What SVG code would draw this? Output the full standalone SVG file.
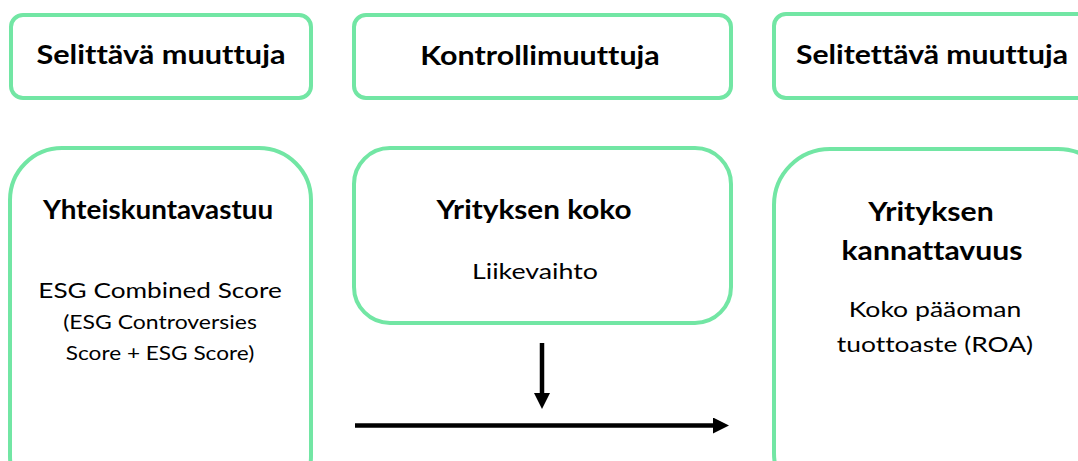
<svg xmlns="http://www.w3.org/2000/svg" width="1078" height="461" viewBox="0 0 1078 461">
<style>
.box{fill:#fff;stroke:#72E6A4;stroke-width:4}
text{font-variant-ligatures:none}
.h{font-family:Lato,"Open Sans",sans-serif;font-weight:bold;font-size:27px;fill:#000;text-anchor:middle}
.t{font-family:Lato,"Open Sans",sans-serif;font-size:21.5px;fill:#000;text-anchor:middle}
.s{font-family:Lato,"Open Sans",sans-serif;font-size:19px;fill:#000;text-anchor:middle}
.c{stroke:#000;stroke-width:4.5;fill:none}
</style>
<defs>
<marker id="ah" markerWidth="16" markerHeight="16" refX="0" refY="8" orient="auto" markerUnits="userSpaceOnUse" viewBox="0 0 16 16">
<path d="M0,0 L16,8 L0,16 z" fill="#000"/>
</marker>
</defs>
<rect width="1078" height="461" fill="#fff"/>
<g id="h1"><rect class="box" x="11" y="15" width="300" height="83" rx="12"/><text class="h" transform="translate(161,64) scale(1.136,1)">Selittävä muuttuja</text></g>
<g id="h2"><rect class="box" x="354" y="15" width="377" height="83" rx="12"/><text class="h" transform="translate(540,65) scale(1.127,1)">Kontrollimuuttuja</text></g>
<g id="h3"><rect class="box" x="774" y="14" width="330" height="84" rx="12"/><text class="h" transform="translate(932,64) scale(1.117,1)">Selitettävä muuttuja</text></g>
<g id="n1"><rect class="box" x="10" y="148" width="301" height="360" rx="52"/>
<text class="h" transform="translate(158,219) scale(1.03,1)">Yhteiskuntavastuu</text>
<text class="t" transform="translate(160,298) scale(1.218,1)">ESG Combined Score</text>
<text class="s" transform="translate(160,329) scale(1.21,1)">(ESG Controversies</text>
<text class="s" transform="translate(160,360) scale(1.19,1)">Score + ESG Score)</text></g>
<g id="n2"><rect class="box" x="354" y="148" width="377" height="175" rx="36"/>
<text class="h" transform="translate(534,219) scale(1.1,1)">Yrityksen koko</text>
<text class="t" transform="translate(535,279) scale(1.246,1)">Liikevaihto</text></g>
<g id="n3"><rect class="box" x="774" y="149" width="340" height="360" rx="56"/>
<text class="h" transform="translate(931,221) scale(1.117,1)">Yrityksen</text>
<text class="h" transform="translate(932,260) scale(1.117,1)">kannattavuus</text>
<text class="t" transform="translate(935,317) scale(1.237,1)">Koko pääoman</text>
<text class="t" transform="translate(935,352) scale(1.228,1)">tuottoaste (ROA)</text></g>
<g id="connectors">
<line class="c" x1="542" y1="343" x2="542" y2="393" marker-end="url(#ah)"/>
<line class="c" x1="355" y1="425.5" x2="713" y2="425.5" marker-end="url(#ah)"/>
</g>
</svg>
